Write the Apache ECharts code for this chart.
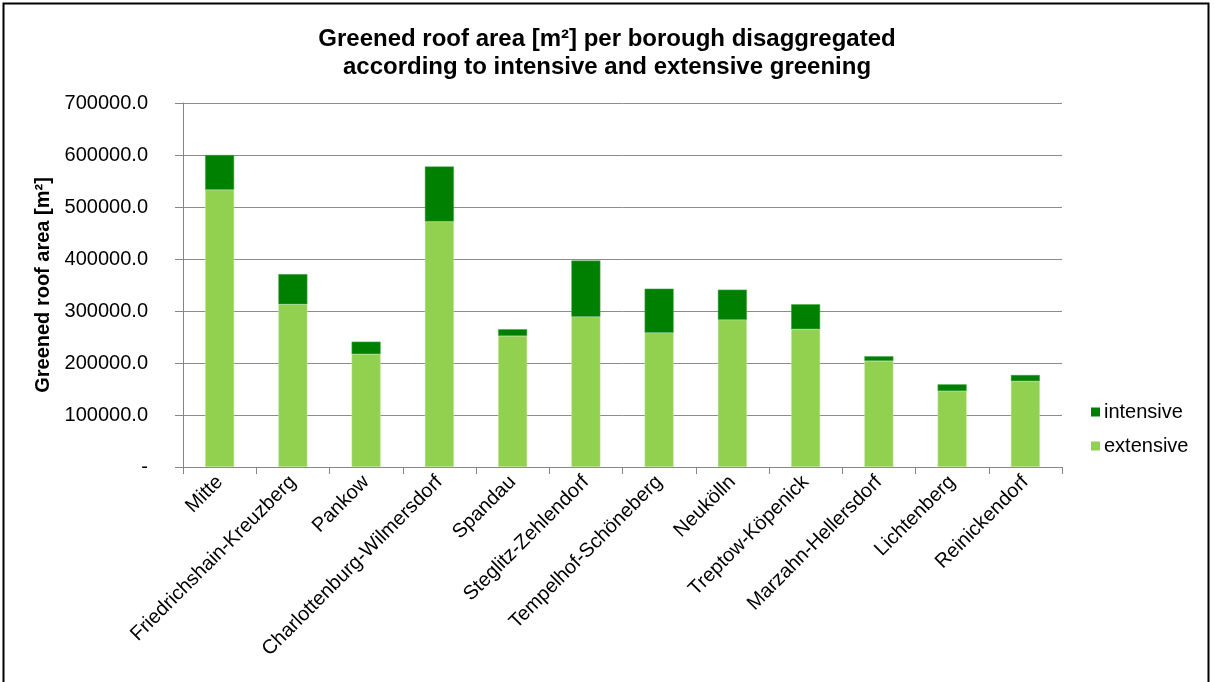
<!DOCTYPE html>
<html>
<head>
<meta charset="utf-8">
<script src="https://cdn.jsdelivr.net/npm/echarts@6/dist/echarts.min.js"></script>
<style>
  html, body { margin: 0; padding: 0; background: #fff; }
  #chart { width: 1214px; height: 682px; }
</style>
</head>
<body>
<div id="chart"></div>
<script>
// Greened roof area per Berlin borough, split by greening type
const boroughs = [
  'Mitte', 'Friedrichshain-Kreuzberg', 'Pankow', 'Charlottenburg-Wilmersdorf',
  'Spandau', 'Steglitz-Zehlendorf', 'Tempelhof-Schöneberg', 'Neukölln',
  'Treptow-Köpenick', 'Marzahn-Hellersdorf', 'Lichtenberg', 'Reinickendorf'
];
const extensive = [533000, 313000, 217000, 472000, 252000, 289000, 258000, 283000, 265000, 204000, 146000, 165000];
const intensive = [67000, 58000, 24000, 106000, 13000, 108000, 85000, 58000, 48000, 9000, 13000, 12000];
const yTicks = [0, 100000, 200000, 300000, 400000, 500000, 600000, 700000];

const FONT = '"Liberation Sans", Arial, sans-serif';
const chart = echarts.init(document.getElementById('chart'));

chart.setOption({
  animation: false,
  backgroundColor: '#ffffff',
  textStyle: { fontFamily: FONT },
  title: {
    text: 'Greened roof area [m²] per borough disaggregated\naccording to intensive and extensive greening',
    left: 'center',
    top: 25,
    padding: 0,
    textStyle: { fontFamily: FONT, fontSize: 24, fontWeight: 'bold', color: '#000', lineHeight: 28 }
  },
  legend: {
    orient: 'vertical',
    left: 1091,
    top: 402,
    padding: 0,
    itemWidth: 9,
    itemHeight: 9,
    itemGap: 14,
    icon: 'rect',
    data: ['intensive', 'extensive'],
    itemStyle: { borderWidth: 0 },
    textStyle: { fontFamily: FONT, fontSize: 20, color: '#000', padding: [0, 0, 0, -1] }
  },
  grid: { left: 183, right: 152, top: 103, bottom: 215, containLabel: false },
  xAxis: {
    type: 'category',
    data: boroughs,
    axisLine: { lineStyle: { color: '#868686', width: 1 } },
    axisTick: { show: true, alignWithLabel: false, length: 7, lineStyle: { color: '#868686' } },
    axisLabel: {
      rotate: 45,
      interval: 0,
      margin: 12,
      fontFamily: FONT,
      fontSize: 20,
      color: '#000'
    }
  },
  yAxis: {
    type: 'value',
    min: yTicks[0],
    max: yTicks[yTicks.length - 1],
    interval: yTicks[1] - yTicks[0],
    name: 'Greened roof area [m²]',
    nameLocation: 'middle',
    nameGap: 130,
    nameTextStyle: { fontFamily: FONT, fontSize: 20, fontWeight: 'bold', color: '#000' },
    axisLine: { show: true, lineStyle: { color: '#868686', width: 1 } },
    axisTick: { show: true, inside: false, length: 8, lineStyle: { color: '#868686' } },
    splitLine: { show: true, lineStyle: { color: '#8c8c8c', width: 1 } },
    axisLabel: {
      margin: 35,
      fontFamily: FONT,
      fontSize: 20,
      color: '#000',
      formatter: function (v) {
        return v === 0 ? '-' : v.toFixed(1);
      }
    }
  },
  series: [
    {
      name: 'extensive',
      type: 'bar',
      stack: 'area',
      data: extensive,
      barWidth: 29,
      itemStyle: { color: '#92D050', borderColor: '#c6e6a4', borderWidth: 0.5 }
    },
    {
      name: 'intensive',
      type: 'bar',
      stack: 'area',
      data: intensive,
      barWidth: 29,
      itemStyle: { color: '#008000', borderColor: '#4da64d', borderWidth: 0.5 }
    }
  ],
  graphic: [
    {
      type: 'rect',
      left: 1,
      top: 1,
      shape: { x: 0, y: 0, width: 1205, height: 700 },
      style: { fill: 'none', stroke: '#000', lineWidth: 2 },
      silent: true,
      z: 100
    }
  ]
});
</script>
</body>
</html>
